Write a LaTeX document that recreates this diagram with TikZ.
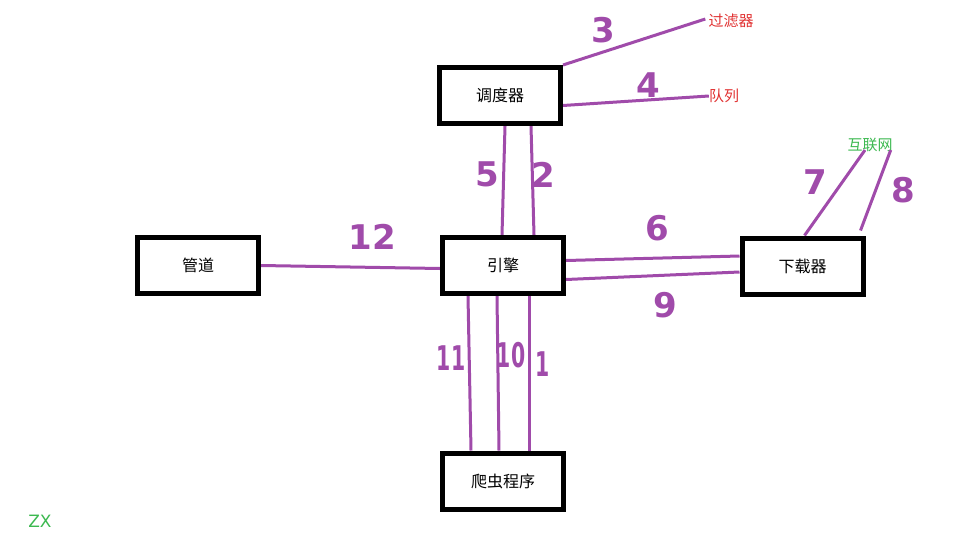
\documentclass[tikz,border=0pt]{standalone}
\usepackage{fontspec}
\setmainfont{DejaVu Sans}
\newfontfamily\cjk{Noto Sans CJK SC}
\usetikzlibrary{calc}
\definecolor{lnpurple}{RGB}{160,75,170}
\definecolor{txred}{RGB}{225,50,50}
\definecolor{txgreen}{RGB}{60,185,80}
\tikzset{
  box/.style={draw=black, line width=5pt, fill=white, minimum width=121pt, minimum height=56pt, inner sep=0pt, font=\cjk\fontsize{16}{19}\selectfont},
  conn/.style={draw=lnpurple, line width=3pt},
  num/.style={text=lnpurple, font=\bfseries\fontsize{34}{40}\selectfont, inner sep=0pt},
  narrownum/.style={num, xscale=0.6},
  redlbl/.style={text=txred, font=\cjk\fontsize{15}{18}\selectfont, inner sep=1pt},
  greenlbl/.style={text=txgreen, font=\cjk\fontsize{15}{18}\selectfont, inner sep=1pt}
}
\begin{document}
\begin{tikzpicture}[x=1pt,y=-1pt]
\useasboundingbox[fill=white] (0,0) rectangle (977,557);
% boxes
\node[box] (sched) at (500,95.5) {调度器};
\node[box] (pipe) at (198,265.5) {管道};
\node[box] (eng) at (503,265.5) {引擎};
\node[box] (dl) at (802.5,266) {下载器};
\node[box] (spider) at (503,481) {爬虫程序};
% free labels
\node[redlbl] (filt) at (731,21) {过滤器};
\node[redlbl] (queue) at (724,96) {队列};
\node[greenlbl] (net) at (870,145) {互联网};
\node[text=txgreen, font=\fontsize{17}{20}\selectfont] (zx) at (40,521) {ZX};
% connectors
\draw[conn] (sched.north east) -- ($(filt.west)+(-2,-2)$);
\draw[conn] ($(sched.east)+(0,10)$) -- ($(queue.west)+(1,0)$);
\draw[conn] ($(sched.south)+(5,0)$) -- ($(eng.north)+(-1,0)$);
\draw[conn] ($(sched.south)+(31,0)$) -- ($(eng.north)+(31,0)$);
\draw[conn] (pipe.east) -- ($(eng.west)+(0,3)$);
\draw[conn] ($(eng.east)+(0,-5)$) -- ($(dl.west)+(0,-10)$);
\draw[conn] ($(eng.east)+(0,14)$) -- ($(dl.west)+(0,6)$);
\draw[conn] ($(dl.north west)+(65,0)$) -- ($(net.south)+(-5,-3)$);
\draw[conn] ($(dl.north east)+(-5,-5)$) -- ($(net.south east)+(-3,-3)$);
\draw[conn] ($(eng.south)+(-35,0)$) -- ($(spider.north)+(-32,0)$);
\draw[conn] ($(eng.south)+(-6,0)$) -- ($(spider.north)+(-4,0)$);
\draw[conn] ($(eng.south)+(26,0)$) -- ($(spider.north)+(26,0)$);
% redraw boxes on top
\node[box] at (sched) {调度器};
\node[box] at (pipe) {管道};
\node[box] at (eng) {引擎};
\node[box] at (dl) {下载器};
\node[box] at (spider) {爬虫程序};
% numbers
\node[num] (n3) at (603,30) {3};
\node[num] (n4) at (648,85) {4};
\node[num] (n5) at (487,174) {5};
\node[num] (n2) at (543,175) {2};
\node[num] (n12) at (372,237) {12};
\node[num] (n6) at (657,228) {6};
\node[num] (n9) at (665,305) {9};
\node[num] (n7) at (815,182) {7};
\node[num] (n8) at (903,190) {8};
\node[narrownum] (n11) at (451,358) {11};
\node[narrownum] (n10) at (511,355) {10};
\node[narrownum] (n1) at (543,364) {1};
\end{tikzpicture}
\end{document}
